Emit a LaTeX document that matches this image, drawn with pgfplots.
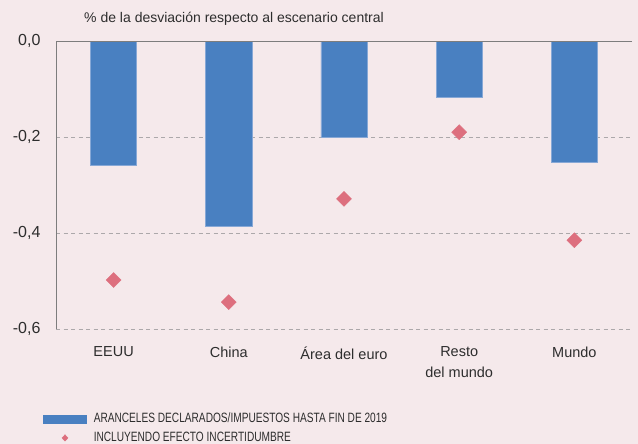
\documentclass[border=0pt]{standalone}
\usepackage{pgfplots}
\pgfplotsset{compat=1.18}
\usepackage{pgfplotstable}
\usepackage{fontspec}
\setmainfont{Liberation Sans}
\newfontfamily\condfont[FakeStretch=0.75]{Liberation Sans}
\definecolor{bgPink}{RGB}{245,233,235}
\definecolor{barBlue}{RGB}{73,128,193}
\definecolor{barEdge}{RGB}{135,168,214}
\definecolor{dotRose}{RGB}{221,111,126}
\definecolor{txtGray}{RGB}{45,45,45}
\definecolor{axGray}{RGB}{125,125,125}
\definecolor{gridGray}{RGB}{172,168,170}

% arancel = bars, incert = diamonds
\pgfplotstableread{
idx arancel incert
0 -0.258 -0.498
1 -0.385 -0.544
2 -0.200 -0.329
3 -0.117 -0.190
4 -0.252 -0.415
}\datatab

\begin{document}
\begin{tikzpicture}
\fill[bgPink] (-56bp,-115bp) rectangle (582bp,329bp);
\useasboundingbox (-56bp,-115bp) rectangle (582bp,329bp);
\begin{axis}[
  scale only axis, width=576bp, height=288bp,
  xmin=-0.5, xmax=4.5, ymin=-0.6, ymax=0,
  axis line style={draw=none},
  tick style={draw=none},
  xtick={0,...,4},
  xticklabels={EEUU, China, Área del euro, Resto\\del mundo, Mundo},
  xticklabel style={align=center, font=\fontsize{14.5bp}{21bp}\selectfont,
    text=txtGray, anchor=north, yshift=-14bp},
  ytick={-0.6,-0.4,-0.2,0},
  yticklabel style={font=\fontsize{16bp}{18bp}\selectfont, text=txtGray,
    anchor=east, xshift=-12bp,
    /pgf/number format/.cd, fixed, fixed zerofill, precision=1, use comma,
    assume math mode=true},
  ymajorgrids,
  major grid style={gridGray, line width=0.8bp, dash pattern=on 4bp off 3.5bp},
  title={\% de la desviación respecto al escenario central},
  title style={at={(0,1)}, anchor=base west, xshift=28bp, yshift=13bp,
    font=\fontsize{14bp}{17bp}\selectfont, text=txtGray, inner sep=0pt},
  legend style={draw=none, fill=none, at={(rel axis cs:0,0)}, anchor=north west,
    xshift=-13bp, yshift=-84bp, row sep=8bp, inner sep=0pt,
    nodes={inner sep=0pt}, cells={anchor=west},
    font=\condfont\fontsize{13.5bp}{15bp}\selectfont, text=txtGray,
    /tikz/every odd column/.append style={column sep=7bp}},
]
\addplot[ybar, bar width=0.4, fill=barBlue, draw=barEdge, line width=0.6bp,
  legend image code/.code={\fill[barBlue] (0bp,-4bp) rectangle (43bp,4bp);}]
  table[x=idx, y=arancel] {\datatab};
\addlegendentry{ARANCELES DECLARADOS/IMPUESTOS HASTA FIN DE 2019}
\addplot[only marks, mark=square*, mark size=5.3bp, mark options={rotate=45},
  color=dotRose,
  legend image code/.code={\path (0bp,0bp) (43bp,0bp);
    \fill[dotRose] (21.5bp,3.2bp) -- (24.5bp,0bp) -- (21.5bp,-3.2bp) -- (18.5bp,0bp) -- cycle;}]
  table[x=idx, y=incert] {\datatab};
\addlegendentry{INCLUYENDO EFECTO INCERTIDUMBRE}
\draw[axGray, line width=1bp] (rel axis cs:0,0) -- (rel axis cs:0,1) -- (rel axis cs:1,1);
\draw[axGray, line width=0.8bp] (axis cs:-0.5,0) -- ++(0,4bp);
\draw[axGray, line width=0.8bp] (axis cs:0.5,0) -- ++(0,4bp);
\draw[axGray, line width=0.8bp] (axis cs:1.5,0) -- ++(0,4bp);
\draw[axGray, line width=0.8bp] (axis cs:2.5,0) -- ++(0,4bp);
\draw[axGray, line width=0.8bp] (axis cs:3.5,0) -- ++(0,4bp);
\draw[axGray, line width=0.8bp] (axis cs:4.5,0) -- ++(0,4bp);
\end{axis}
\end{tikzpicture}
\end{document}
